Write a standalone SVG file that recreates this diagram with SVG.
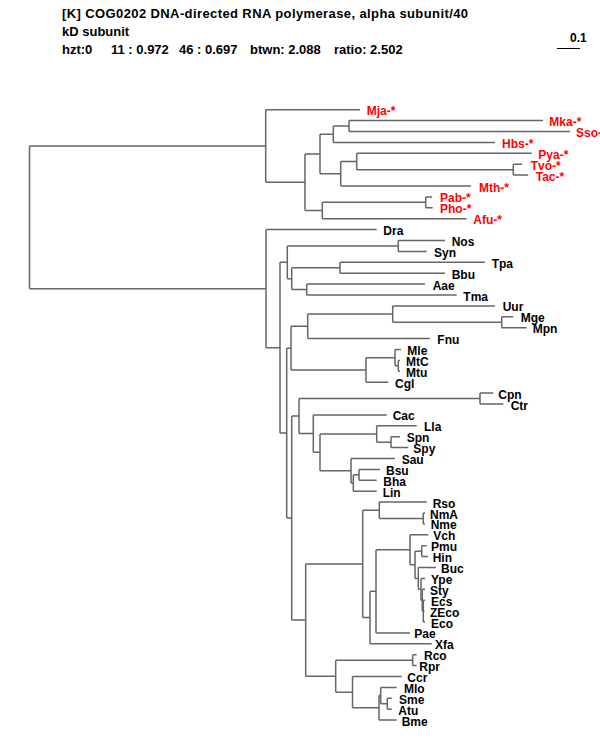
<svg xmlns="http://www.w3.org/2000/svg" width="600" height="750" viewBox="0 0 600 750">
<style>
text{font-family:"Liberation Sans",Arial,sans-serif;font-weight:bold;font-size:12px;fill:#000}
.hd{font-size:13px}
.ar{fill:#ff0000}
#connectors path{fill:none;stroke:#666;stroke-width:1.5}
</style>
<rect width="600" height="750" fill="#fff"/>
<g id="header">
<text class="hd" x="62" y="18" textLength="406" lengthAdjust="spacing">[K] COG0202 DNA-directed RNA polymerase, alpha subunit/40</text>
<text class="hd" x="62" y="36">kD subunit</text>
<text class="hd" x="62" y="54">hzt:0</text>
<text class="hd" x="111" y="54">11 : 0.972</text>
<text class="hd" x="179" y="54">46 : 0.697</text>
<text class="hd" x="250" y="54">btwn: 2.088</text>
<text class="hd" x="334" y="54">ratio: 2.502</text>
</g>
<g id="scale">
<text x="570" y="42">0.1</text>
<path d="M557 48.5H580" stroke="#000" stroke-width="1"/>
</g>
<g id="connectors">
<path d="M29.5 145.95V288.65M29.5 145.95H265.7M29.5 288.65H266"/>
<path d="M265.7 109.7V182.2M265.7 109.7H360M265.7 182.2H305"/>
<path d="M305 153.95V210.5M305 153.95H320M305 210.5H322.3"/>
<path d="M320 134.2V173.7M320 134.2H333.3M320 173.7H340.7"/>
<path d="M333.3 126.05V142.4M333.3 126.05H349M333.3 142.4H495"/>
<path d="M349 120.6V131.5M349 120.6H543M349 131.5H570"/>
<path d="M340.7 161.5V186M340.7 161.5H356.7M340.7 186H471"/>
<path d="M356.7 153.3V169.65M356.7 153.3H531.7M356.7 169.65H513.3"/>
<path d="M513.3 164.2V175.1M513.3 164.2H522M513.3 175.1H528"/>
<path d="M322.3 202.35V218.7M322.3 202.35H425.7M322.3 218.7H466.7"/>
<path d="M425.7 196.9V207.8M425.7 196.9H432M425.7 207.8H432.7"/>
<path d="M266 229.6V347.7M266 229.6H376.7M266 347.7H280"/>
<path d="M280 262.3V433.1M280 262.3H287.3M280 433.1H286.7"/>
<path d="M287.3 245.95V278.65M287.3 245.95H398.3M287.3 278.65H291.7"/>
<path d="M398.3 240.5V251.4M398.3 240.5H445M398.3 251.4H426.7"/>
<path d="M291.7 267.75V289.55M291.7 267.75H340M291.7 289.55H306.7"/>
<path d="M340 262.3V273.2M340 262.3H485M340 273.2H445"/>
<path d="M306.7 284.1V295M306.7 284.1H425M306.7 295H456.7"/>
<path d="M286.7 348.15V518.1M286.7 348.15H291M286.7 518.1H291.7"/>
<path d="M291 326.35V369.95M291 326.35H307.7M291 369.95H366"/>
<path d="M307.7 314.1V338.6M307.7 314.1H392.7M307.7 338.6H430"/>
<path d="M392.7 305.9V322.25M392.7 305.9H495M392.7 322.25H501.7"/>
<path d="M501.7 316.8V327.7M501.7 316.8H513.3M501.7 327.7H526.7"/>
<path d="M366 357.7V382.2M366 357.7H395M366 382.2H388.3"/>
<path d="M395 349.5V365.85M395 349.5H401M395 365.85H398.3"/>
<path d="M398.3 360.4V371.3M398.3 360.4H400M398.3 371.3H400"/>
<path d="M291.7 416.1V620.1M291.7 416.1H299M291.7 620.1H305.7"/>
<path d="M299 398.55V433.6M299 398.55H480M299 433.6H313.3"/>
<path d="M480 393.1V404M480 393.1H493.3M480 404H503.3"/>
<path d="M313.3 414.9V452.35M313.3 414.9H386.7M313.3 452.35H320"/>
<path d="M320 433.95V470.75M320 433.95H376.7M320 470.75H351"/>
<path d="M376.7 425.8V442.15M376.7 425.8H416.7M376.7 442.15H391"/>
<path d="M391 436.7V447.6M391 436.7H400M391 447.6H408.3"/>
<path d="M351 458.5V483M351 458.5H395M351 483H353.3"/>
<path d="M353.3 474.85V491.2M353.3 474.85H359M353.3 491.2H376.7"/>
<path d="M359 469.4V480.3M359 469.4H380M359 480.3H376.7"/>
<path d="M305.7 563.95V676.2M305.7 563.95H362.7M305.7 676.2H335.7"/>
<path d="M362.7 510.3V617.6M362.7 510.3H379.3M362.7 617.6H370"/>
<path d="M379.3 502.1V518.45M379.3 502.1H426.7M379.3 518.45H423.3"/>
<path d="M423.3 513V523.9M423.3 513H425M423.3 523.9H425"/>
<path d="M370 591.35V643.8M370 591.35H376M370 643.8H431.7"/>
<path d="M376 549.8V632.9M376 549.8H410M376 632.9H410"/>
<path d="M410 534.8V564.8M410 534.8H428.3M410 564.8H415"/>
<path d="M415 551.15V578.4M415 551.15H421.7M415 578.4H418.3"/>
<path d="M421.7 545.7V556.6M421.7 545.7H426.7M421.7 556.6H428"/>
<path d="M418.3 567.5V589.3M418.3 567.5H436M418.3 589.3H421"/>
<path d="M421 578.4V600.2M421 578.4H425M421 600.2H422.3"/>
<path d="M422.3 589.3V611.1M422.3 589.3H425M422.3 611.1H423.3"/>
<path d="M423.3 600.2V622M423.3 600.2H425M423.3 611.1H424.5M423.3 622H425"/>
<path d="M335.7 660.15V692.2M335.7 660.15H412.7M335.7 692.2H352.5"/>
<path d="M412.7 654.7V665.6M412.7 654.7H416.7M412.7 665.6H416.7"/>
<path d="M352.5 676.5V707.85M352.5 676.5H401.7M352.5 707.85H379"/>
<path d="M379 695.6V720.1M379 695.6H380.7M379 720.1H396.7"/>
<path d="M380.7 687.4V703.75M380.7 687.4H396.7M380.7 703.75H387.3"/>
<path d="M387.3 698.3V709.2M387.3 698.3H391.7M387.3 709.2H391.7"/>
</g>
<g id="leaf-Mja"><text class="ar" x="366.7" y="115.2">Mja-*</text></g>
<g id="leaf-Mka"><text class="ar" x="549.3" y="126.1">Mka-*</text></g>
<g id="leaf-Sso"><text class="ar" x="576" y="137">Sso-*</text></g>
<g id="leaf-Hbs"><text class="ar" x="502" y="147.9">Hbs-*</text></g>
<g id="leaf-Pya"><text class="ar" x="538.3" y="158.8">Pya-*</text></g>
<g id="leaf-Tvo"><text class="ar" x="530.7" y="169.7">Tvo-*</text></g>
<g id="leaf-Tac"><text class="ar" x="535.7" y="180.6">Tac-*</text></g>
<g id="leaf-Mth"><text class="ar" x="479" y="191.5">Mth-*</text></g>
<g id="leaf-Pab"><text class="ar" x="440" y="202.4">Pab-*</text></g>
<g id="leaf-Pho"><text class="ar" x="440" y="213.3">Pho-*</text></g>
<g id="leaf-Afu"><text class="ar" x="473.3" y="224.2">Afu-*</text></g>
<g id="leaf-Dra"><text x="383.3" y="235.1">Dra</text></g>
<g id="leaf-Nos"><text x="451.7" y="246">Nos</text></g>
<g id="leaf-Syn"><text x="434" y="256.9">Syn</text></g>
<g id="leaf-Tpa"><text x="491.7" y="267.8">Tpa</text></g>
<g id="leaf-Bbu"><text x="451.7" y="278.7">Bbu</text></g>
<g id="leaf-Aae"><text x="432.7" y="289.6">Aae</text></g>
<g id="leaf-Tma"><text x="463.3" y="300.5">Tma</text></g>
<g id="leaf-Uur"><text x="502.7" y="311.4">Uur</text></g>
<g id="leaf-Mge"><text x="520.7" y="322.3">Mge</text></g>
<g id="leaf-Mpn"><text x="532.7" y="333.2">Mpn</text></g>
<g id="leaf-Fnu"><text x="437.3" y="344.1">Fnu</text></g>
<g id="leaf-Mle"><text x="407.3" y="355">Mle</text></g>
<g id="leaf-MtC"><text x="406" y="365.9">MtC</text></g>
<g id="leaf-Mtu"><text x="406" y="376.8">Mtu</text></g>
<g id="leaf-Cgl"><text x="395" y="387.7">Cgl</text></g>
<g id="leaf-Cpn"><text x="498.3" y="398.6">Cpn</text></g>
<g id="leaf-Ctr"><text x="510.7" y="409.5">Ctr</text></g>
<g id="leaf-Cac"><text x="392.7" y="420.4">Cac</text></g>
<g id="leaf-Lla"><text x="424" y="431.3">Lla</text></g>
<g id="leaf-Spn"><text x="406.7" y="442.2">Spn</text></g>
<g id="leaf-Spy"><text x="413.3" y="453.1">Spy</text></g>
<g id="leaf-Sau"><text x="401.7" y="464">Sau</text></g>
<g id="leaf-Bsu"><text x="386" y="474.9">Bsu</text></g>
<g id="leaf-Bha"><text x="383.3" y="485.8">Bha</text></g>
<g id="leaf-Lin"><text x="382.7" y="496.7">Lin</text></g>
<g id="leaf-Rso"><text x="432.7" y="507.6">Rso</text></g>
<g id="leaf-NmA"><text x="430" y="518.5">NmA</text></g>
<g id="leaf-Nme"><text x="430.7" y="529.4">Nme</text></g>
<g id="leaf-Vch"><text x="433.3" y="540.3">Vch</text></g>
<g id="leaf-Pmu"><text x="431" y="551.2">Pmu</text></g>
<g id="leaf-Hin"><text x="432.7" y="562.1">Hin</text></g>
<g id="leaf-Buc"><text x="441" y="573">Buc</text></g>
<g id="leaf-Ype"><text x="431" y="583.9">Ype</text></g>
<g id="leaf-Sty"><text x="430" y="594.8">Sty</text></g>
<g id="leaf-Ecs"><text x="431" y="605.7">Ecs</text></g>
<g id="leaf-ZEco"><text x="430" y="616.6">ZEco</text></g>
<g id="leaf-Eco"><text x="431" y="627.5">Eco</text></g>
<g id="leaf-Pae"><text x="414.3" y="638.4">Pae</text></g>
<g id="leaf-Xfa"><text x="435" y="649.3">Xfa</text></g>
<g id="leaf-Rco"><text x="424" y="660.2">Rco</text></g>
<g id="leaf-Rpr"><text x="419.3" y="671.1">Rpr</text></g>
<g id="leaf-Ccr"><text x="407.3" y="682">Ccr</text></g>
<g id="leaf-Mlo"><text x="404" y="692.9">Mlo</text></g>
<g id="leaf-Sme"><text x="399" y="703.8">Sme</text></g>
<g id="leaf-Atu"><text x="398.3" y="714.7">Atu</text></g>
<g id="leaf-Bme"><text x="401.7" y="725.6">Bme</text></g>
</svg>
